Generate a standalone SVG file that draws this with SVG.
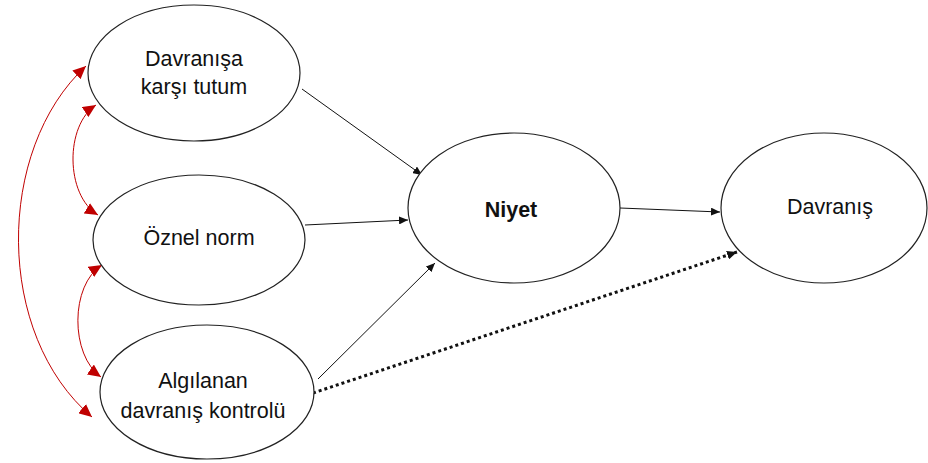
<svg xmlns="http://www.w3.org/2000/svg" width="928" height="463" viewBox="0 0 928 463">
<style>
.node ellipse{fill:#fff;stroke:#222;stroke-width:1.2}
.node text{font-family:"Liberation Sans",Arial,sans-serif;font-size:21.5px;fill:#111;text-anchor:middle}
.conn{fill:none;stroke:#111;stroke-width:1}
.red{fill:none;stroke:#C00000;stroke-width:1}
.dot{fill:none;stroke:#111;stroke-width:3;stroke-dasharray:3 3}
</style>
<defs>
<marker id="ab" viewBox="0 0 10 10" refX="10" refY="5" markerWidth="9" markerHeight="8" markerUnits="userSpaceOnUse" orient="auto" preserveAspectRatio="none"><path d="M0 0L10 5L0 10z" fill="#111"/></marker>
<marker id="abd" viewBox="0 0 10 10" refX="10" refY="5" markerWidth="10" markerHeight="9" markerUnits="userSpaceOnUse" orient="auto" preserveAspectRatio="none"><path d="M0 0L10 5L0 10z" fill="#111"/></marker>
<marker id="ar" viewBox="0 0 10 10" refX="10" refY="5" markerWidth="13" markerHeight="12" markerUnits="userSpaceOnUse" orient="auto-start-reverse" preserveAspectRatio="none"><path d="M0 0L10 5L0 10z" fill="#C00000"/></marker>
</defs>
<rect width="928" height="463" fill="#fff"/>
<g id="connectors">
<path class="red" d="M86 66 C-5 150,-5 335,92 417" marker-start="url(#ar)" marker-end="url(#ar)"/>
<path class="red" d="M96 105 C65 125,65 195,98 215" marker-start="url(#ar)" marker-end="url(#ar)"/>
<path class="red" d="M102 265 C70 285,70 355,101 377" marker-start="url(#ar)" marker-end="url(#ar)"/>
<path class="conn" d="M302 89 L422 175" marker-end="url(#ab)"/>
<path class="conn" d="M305 225 L408 220" marker-end="url(#ab)"/>
<path class="conn" d="M318 379 L435 263" marker-end="url(#ab)"/>
<path class="conn" d="M620 208 L720 212" marker-end="url(#ab)"/>
<path class="dot" d="M313 393 L737 252" marker-end="url(#abd)"/>
</g>
<g id="n-tutum" class="node">
<ellipse cx="194" cy="73" rx="106" ry="68"/>
<text x="194" y="66">Davranışa</text>
<text x="194" y="94">karşı tutum</text>
</g>
<g id="n-norm" class="node">
<ellipse cx="199" cy="240" rx="106" ry="65"/>
<text x="199" y="245">Öznel norm</text>
</g>
<g id="n-kontrol" class="node">
<ellipse cx="207" cy="392" rx="107" ry="67"/>
<text x="203" y="388">Algılanan</text>
<text x="203" y="418">davranış kontrolü</text>
</g>
<g id="n-niyet" class="node">
<ellipse cx="514" cy="208" rx="106" ry="75"/>
<text x="511" y="217" font-weight="bold">Niyet</text>
</g>
<g id="n-davranis" class="node">
<ellipse cx="824" cy="208" rx="103" ry="75"/>
<text x="830" y="214">Davranış</text>
</g>
</svg>
